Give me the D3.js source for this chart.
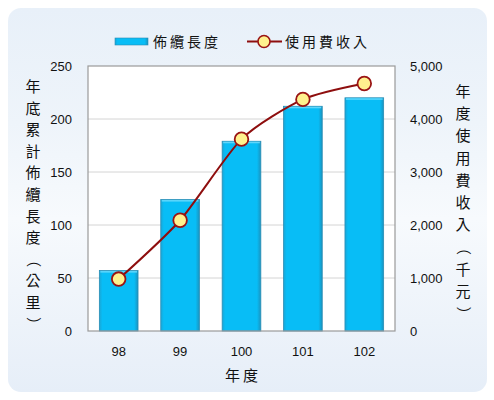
<!DOCTYPE html>
<html><head><meta charset="utf-8">
<script src="https://cdn.jsdelivr.net/npm/d3@7"></script>
<style>body{margin:0;background:#fff}svg{display:block}</style>
</head><body><svg id="c" width="494" height="400"></svg>
<script>
const years = ["98","99","100","101","102"];
const cableLength = [57, 124, 179, 212, 220];
const feeIncome = [980, 2090, 3620, 4370, 4670];
const leftTicks = [0, 50, 100, 150, 200, 250];
const rightTicks = [0, 1000, 2000, 3000, 4000, 5000];
const leftTitle = "年底累計佈纜長度（公里）";
const rightTitle = "年度使用費收入（千元）";
const xTitle = "年度";
const legendBar = "佈纜長度";
const legendLine = "使用費收入";

const svg = d3.select("#c");
const cjk = "'Noto Sans CJK TC','Noto Sans CJK SC',sans-serif";
const num = "'Liberation Sans',Arial,sans-serif";
const defs = svg.append("defs");
const bg = defs.append("linearGradient").attr("id","bg").attr("x1",0).attr("y1",0).attr("x2",0).attr("y2",1);
bg.append("stop").attr("offset","0%").attr("stop-color","#e8f0f9");
bg.append("stop").attr("offset","30%").attr("stop-color","#eef4fa");
bg.append("stop").attr("offset","55%").attr("stop-color","#f7fafd");
bg.append("stop").attr("offset","100%").attr("stop-color","#e6eef8");
const bar = defs.append("linearGradient").attr("id","bar").attr("x1",0).attr("y1",0).attr("x2",1).attr("y2",0);
bar.append("stop").attr("offset","0%").attr("stop-color","#1aa6d6");
bar.append("stop").attr("offset","8%").attr("stop-color","#08bdf6");
bar.append("stop").attr("offset","90%").attr("stop-color","#08bdf6");
bar.append("stop").attr("offset","100%").attr("stop-color","#1a93bf");

svg.append("rect").attr("x",8).attr("y",8).attr("width",479).attr("height",384).attr("rx",13).attr("fill","url(#bg)");

const m = {l:88, r:395, t:66, b:331};
const x = d3.scaleBand().domain(years).range([m.l, m.r]).paddingInner(0.37).paddingOuter(0.185);
const yL = d3.scaleLinear().domain([0,250]).range([m.b, m.t]);
const yR = d3.scaleLinear().domain([0,5000]).range([m.b, m.t]);

svg.append("rect").attr("x",m.l).attr("y",m.t).attr("width",m.r-m.l).attr("height",m.b-m.t).attr("fill","#fff");

// gridlines
svg.append("g").selectAll("line").data(leftTicks.slice(1,-1)).join("line")
  .attr("x1",m.l).attr("x2",m.r).attr("y1",d=>yL(d)).attr("y2",d=>yL(d))
  .attr("stroke","#d4d4d4").attr("stroke-width",1);

// bars
const gb = svg.append("g");
gb.selectAll("rect.b").data(cableLength).join("rect").attr("class","b")
  .attr("x",(d,i)=>x(years[i])).attr("width",x.bandwidth())
  .attr("y",d=>yL(d)).attr("height",d=>m.b-yL(d))
  .attr("fill","url(#bar)").attr("stroke","#2a8db5").attr("stroke-width",0.8);
gb.selectAll("rect.h").data(cableLength).join("rect").attr("class","h")
  .attr("x",(d,i)=>x(years[i])+1).attr("width",x.bandwidth()-2)
  .attr("y",d=>yL(d)+0.5).attr("height",1.5).attr("fill","#5fd6fb");

// frame
svg.append("rect").attr("x",m.l).attr("y",m.t).attr("width",m.r-m.l).attr("height",m.b-m.t)
  .attr("fill","none").attr("stroke","#9a9a9a").attr("stroke-width",1.2);

// axes
const axL = d3.axisLeft(yL).tickValues(leftTicks).tickSize(0).tickPadding(16);
const gL = svg.append("g").attr("transform",`translate(${m.l},0)`).call(axL);
const axR = d3.axisRight(yR).tickValues(rightTicks).tickSize(0).tickPadding(15).tickFormat(d3.format(","));
const gR = svg.append("g").attr("transform",`translate(${m.r},0)`).call(axR);
const axB = d3.axisBottom(x).tickSize(0).tickPadding(16);
const gB = svg.append("g").attr("transform",`translate(0,${m.b})`).call(axB);
[gL,gR,gB].forEach(g=>{g.select(".domain").remove();g.selectAll("text").attr("font-family",num).attr("font-size",13).attr("fill","#111");});

// line
const line = d3.line().x((d,i)=>x(years[i])+x.bandwidth()/2).y(d=>yR(d)).curve(d3.curveCardinal.tension(0.3));
svg.append("path").datum(feeIncome).attr("d",line).attr("fill","none").attr("stroke","#8e0e0e").attr("stroke-width",2);
svg.append("g").selectAll("circle").data(feeIncome).join("circle")
  .attr("cx",(d,i)=>x(years[i])+x.bandwidth()/2).attr("cy",d=>yR(d)).attr("r",6.8)
  .attr("fill","#fff18e").attr("stroke","#9a1414").attr("stroke-width",1.8);

// axis titles (vertical stacked, brackets rotated as in vertical writing)
function vtitle(chars, cx, y0, step){
  svg.append("g").selectAll("text").data(Array.from(chars)).join("text")
    .attr("transform",(d,i)=>{
      const y = y0+i*step;
      return (d==="（"||d==="）") ? `translate(${cx},${y-5}) rotate(90)` : `translate(${cx},${y})`;
    })
    .attr("text-anchor","middle")
    .attr("dy",d=>(d==="（"||d==="）")?"0.35em":0)
    .attr("font-family",cjk).attr("font-size",15).attr("fill","#111").text(d=>d);
}
vtitle(leftTitle, 33, 92, 21.6);
vtitle(rightTitle, 463, 97, 22.2);
svg.append("text").attr("x",243).attr("y",381).attr("text-anchor","middle").attr("letter-spacing",3)
  .attr("font-family",cjk).attr("font-size",15).attr("fill","#111").text(xTitle);

// legend
svg.append("rect").attr("x",115).attr("y",38).attr("width",33).attr("height",7).attr("fill","url(#bar)").attr("stroke","#2a8db5").attr("stroke-width",0.6);
svg.append("text").attr("x",153).attr("y",47).attr("letter-spacing",3).attr("font-family",cjk).attr("font-size",14).attr("fill","#111").text(legendBar);
svg.append("line").attr("x1",247).attr("x2",282).attr("y1",41.5).attr("y2",41.5).attr("stroke","#8e0e0e").attr("stroke-width",2);
svg.append("circle").attr("cx",264).attr("cy",41.5).attr("r",6).attr("fill","#fff18e").attr("stroke","#9a1414").attr("stroke-width",1.6);
svg.append("text").attr("x",285).attr("y",47).attr("letter-spacing",3).attr("font-family",cjk).attr("font-size",14).attr("fill","#111").text(legendLine);
</script></body></html>
